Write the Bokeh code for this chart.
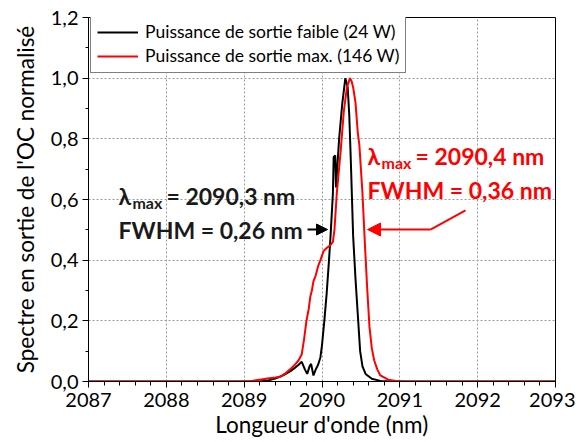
from bokeh.plotting import figure
from bokeh.models import (Range1d, Legend, LegendItem, FixedTicker, CustomJSTickFormatter,
                          Arrow, NormalHead, Label)
from bokeh.embed import file_html
from bokeh.resources import INLINE

# ---- data ----
x_faible = [2087.0, 2089.2, 2089.3, 2089.4, 2089.5, 2089.6, 2089.65, 2089.7, 2089.74, 2089.78,
            2089.81, 2089.84, 2089.86, 2089.89, 2089.92, 2089.95, 2089.98, 2090.0, 2090.03,
            2090.06, 2090.09, 2090.11, 2090.14, 2090.15, 2090.17, 2090.18, 2090.2, 2090.22,
            2090.26, 2090.3, 2090.33, 2090.35, 2090.37, 2090.4, 2090.43, 2090.46, 2090.49,
            2090.52, 2090.56, 2090.64, 2090.75, 2090.9, 2093.0]
y_faible = [0, 0, 0.003, 0.01, 0.02, 0.035, 0.045, 0.055, 0.065, 0.04,
            0.025, 0.05, 0.058, 0.02, 0.04, 0.055, 0.08, 0.12, 0.2,
            0.29, 0.4, 0.48, 0.62, 0.74, 0.745, 0.64, 0.72, 0.8,
            0.915, 1.0, 0.97, 0.88, 0.73, 0.48, 0.34, 0.22, 0.10,
            0.05, 0.025, 0.009, 0.002, 0, 0]

x_max = [2087.0, 2089.0, 2089.1, 2089.2, 2089.3, 2089.4, 2089.46, 2089.52, 2089.59, 2089.65,
         2089.7, 2089.74, 2089.77, 2089.8, 2089.83, 2089.85, 2089.87, 2089.89, 2089.92,
         2089.95, 2089.98, 2090.02, 2090.06, 2090.11, 2090.14, 2090.16, 2090.19, 2090.24,
         2090.28, 2090.32, 2090.36, 2090.38, 2090.4, 2090.43, 2090.46, 2090.48, 2090.5,
         2090.52, 2090.55, 2090.58, 2090.61, 2090.64, 2090.67, 2090.71, 2090.75, 2090.85,
         2090.95, 2091.1, 2093.0]
y_max = [0, 0, 0.002, 0.006, 0.01, 0.013, 0.015, 0.025, 0.04, 0.055,
         0.07, 0.09, 0.14, 0.2, 0.24, 0.28, 0.3, 0.33, 0.35,
         0.38, 0.4, 0.43, 0.44, 0.45, 0.46, 0.5, 0.62, 0.76,
         0.89, 0.97, 1.0, 0.99, 0.97, 0.92, 0.82, 0.78, 0.70,
         0.62, 0.46, 0.31, 0.18, 0.11, 0.07, 0.04, 0.02, 0.006,
         0.002, 0, 0]

x_ticks = [2087, 2088, 2089, 2090, 2091, 2092, 2093]
y_ticks = [0.0, 0.2, 0.4, 0.6, 0.8, 1.0, 1.2]
legend_labels = ["Puissance de sortie faible (24 W)", "Puissance de sortie max. (146 W)"]

FONT = "Lato"

p = figure(output_backend="svg", toolbar_location=None,
           frame_width=467, frame_height=364,
           x_range=Range1d(2087, 2093), y_range=Range1d(0, 1.2),
           min_border_left=88, min_border_top=17, min_border_right=20, min_border_bottom=56)
p.background_fill_color = "white"
p.border_fill_color = "white"
p.outline_line_color = "black"
p.outline_line_width = 1

# axes
p.xaxis.ticker = FixedTicker(ticks=x_ticks, minor_ticks=[2087 + 0.2 * i for i in range(31)])
p.yaxis.ticker = FixedTicker(ticks=y_ticks, minor_ticks=[0.1 * i for i in range(13)])
p.yaxis.formatter = CustomJSTickFormatter(code="return tick.toFixed(1).replace('.', ',');")
for ax in (p.xaxis, p.yaxis):
    ax.axis_line_color = "black"
    ax.axis_line_width = 1
    ax.major_tick_line_color = "black"
    ax.minor_tick_line_color = "black"
    ax.major_tick_in = 0
    ax.major_tick_out = 6
    ax.minor_tick_in = 0
    ax.minor_tick_out = 3
    ax.major_label_text_font = FONT
    ax.major_label_text_font_size = "20px"
    ax.major_label_text_color = "black"
    ax.axis_label_text_font = FONT
    ax.axis_label_text_font_size = "22.5px"
    ax.axis_label_text_font_style = "normal"
    ax.axis_label_text_color = "black"
p.xaxis.minor_tick_out = 4
p.xaxis.axis_label = "Longueur d'onde (nm)"
p.yaxis.axis_label = "Spectre en sortie de l'OC normalisé"
p.xaxis.axis_label_standoff = 1
p.yaxis.axis_label_standoff = 9
p.xaxis.major_label_standoff = 5
p.yaxis.major_label_standoff = 4

for g in (p.xgrid, p.ygrid):
    g.grid_line_color = "#9a9a9a"
    g.grid_line_dash = "2 2"
    g.grid_line_width = 1

# curves
r_faible = p.line(x_faible, y_faible, line_color="black", line_width=2)
r_max = p.line(x_max, y_max, line_color="#ff0000", line_width=2)

legend = Legend(items=[LegendItem(label=legend_labels[0], renderers=[r_faible]),
                       LegendItem(label=legend_labels[1], renderers=[r_max])],
                location=(2, 308), orientation="vertical")
legend.label_text_font = FONT
legend.label_text_font_size = "17.5px"
legend.label_text_color = "black"
legend.glyph_width = 41
legend.glyph_height = 20
legend.label_height = 20
legend.label_standoff = 7
legend.spacing = 3
legend.padding = 6
legend.margin = 0
legend.border_line_color = "black"
legend.border_line_width = 1
legend.background_fill_alpha = 1
p.add_layout(legend, "center")

# annotations
ann_black_x = 2087.385
ann_red_x = 2090.585
ann_black_y = [0.613, 0.501]
ann_red_y = [0.745, 0.63]
ann_black_text = ["λ", "max", "= 2090,3 nm", "FWHM = 0,26 nm"]
ann_red_text = ["λ", "max", "= 2090,4 nm", "FWHM = 0,36 nm"]

def add_annot(x0, ys, texts, color):
    common = dict(text_font=FONT, text_font_style="bold", text_color=color,
                  text_baseline="middle", text_align="left")
    p.add_layout(Label(x=x0, y=ys[0], text=texts[0], text_font_size="23px", **common))
    p.add_layout(Label(x=x0, y=ys[0], x_offset=14, y_offset=-7, text=texts[1],
                       text_font_size="16px", **common))
    p.add_layout(Label(x=x0, y=ys[0], x_offset=48, text=texts[2], text_font_size="23px", **common))
    p.add_layout(Label(x=x0, y=ys[1], text=texts[3], text_font_size="23px", **common))

add_annot(ann_black_x, ann_black_y, ann_black_text, "#1a1a1a")
add_annot(ann_red_x, ann_red_y, ann_red_text, "#ff0000")

# arrows
p.add_layout(Arrow(end=NormalHead(size=11, fill_color="black", line_color="black"),
                   line_color="black", line_width=2,
                   x_start=2089.814, y_start=0.501, x_end=2090.071, y_end=0.501))
red_path_x = [2091.844, 2091.394]
red_path_y = [0.564, 0.501]
p.line(red_path_x, red_path_y, line_color="#ff0000", line_width=2)
p.add_layout(Arrow(end=NormalHead(size=13, fill_color="#ff0000", line_color="#ff0000"),
                   line_color="#ff0000", line_width=2,
                   x_start=2091.394, y_start=0.501, x_end=2090.585, y_end=0.501))

open("out.html", "w").write(file_html(p, INLINE))
